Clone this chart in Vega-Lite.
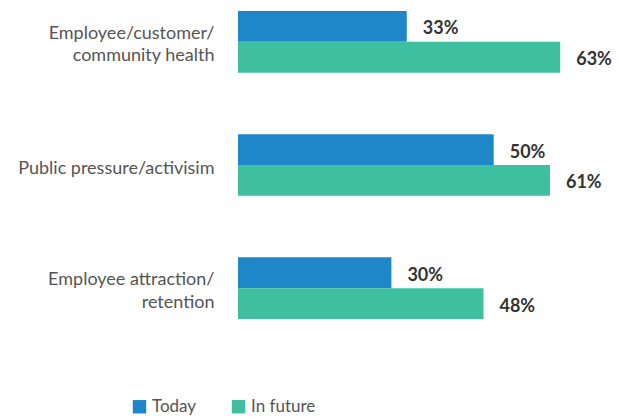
{
  "$schema": "https://vega.github.io/schema/vega-lite/v6.json",
  "width": 358,
  "height": 330,
  "autosize": {"type": "none"},
  "padding": {"left": 238, "top": 0, "right": 23, "bottom": 87},
  "config": {"view": {"stroke": null}, "font": "Lato"},
  "data": {"values": [
    {"cat": "Employee/customer/ community health", "series": "Today", "value": 0.33},
    {"cat": "Employee/customer/ community health", "series": "In future", "value": 0.63},
    {"cat": "Public pressure/activisim", "series": "Today", "value": 0.50},
    {"cat": "Public pressure/activisim", "series": "In future", "value": 0.61},
    {"cat": "Employee attraction/ retention", "series": "Today", "value": 0.30},
    {"cat": "Employee attraction/ retention", "series": "In future", "value": 0.48}
  ]},
  "encoding": {
    "y": {
      "field": "cat", "type": "nominal", "sort": null,
      "scale": {"paddingInner": 0.5, "paddingOuter": 0.09},
      "axis": {
        "title": null, "ticks": false, "domain": false, "labelPadding": 24,
        "labelFontSize": 18, "labelColor": "#555555", "labelLineHeight": 22.5, "labelLimit": 300,
        "labelOffset": {"condition": {"test": "datum.value == 'Public pressure/activisim'", "value": 4}, "value": -8},
        "labelExpr": "datum.value == 'Employee/customer/ community health' ? ['Employee/customer/', 'community health'] : datum.value == 'Employee attraction/ retention' ? ['Employee attraction/', 'retention'] : datum.value"
      }
    },
    "yOffset": {"field": "series", "type": "nominal", "sort": ["Today", "In future"], "scale": {"paddingInner": 0}},
    "x": {"field": "value", "type": "quantitative", "scale": {"domain": [0, 0.7]}, "axis": null}
  },
  "layer": [
    {
      "mark": {"type": "bar"},
      "encoding": {
        "color": {
          "field": "series", "type": "nominal",
          "scale": {"domain": ["Today", "In future"], "range": ["#1F87C8", "#3DBFA0"]},
          "legend": {
            "title": null, "orient": "none", "direction": "horizontal",
            "legendX": -107, "legendY": 398,
            "symbolType": "square", "symbolSize": 180, "symbolStrokeWidth": 0,
            "labelFontSize": 17, "labelColor": "#555555", "columnPadding": 33, "labelOffset": 4
          }
        }
      }
    },
    {
      "mark": {"type": "text", "align": "left", "dx": 16, "dy": 3, "fontSize": 18, "fontWeight": "bold", "color": "#333333"},
      "encoding": {"text": {"field": "value", "type": "quantitative", "format": ".0%"}}
    }
  ]
}
